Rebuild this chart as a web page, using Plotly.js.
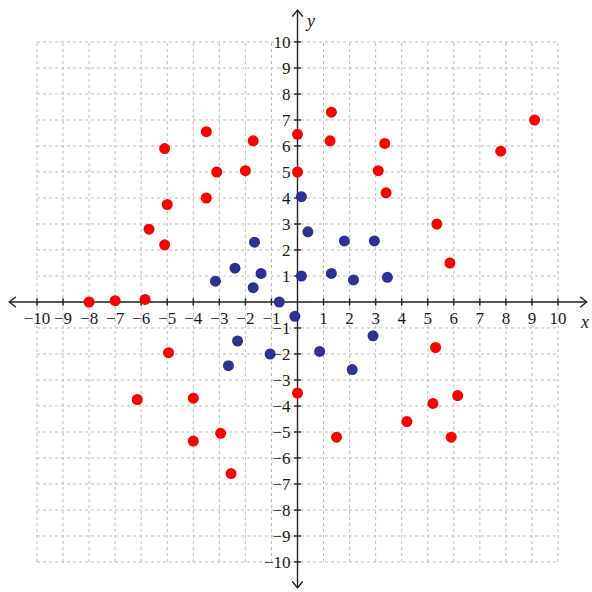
<!DOCTYPE html>
<html>
<head>
<meta charset="utf-8">
<script src="https://cdn.plot.ly/plotly-3.0.1.min.js"></script>
<style>html,body{margin:0;padding:0;background:#fff;}#chart{width:592px;height:592px;}</style>
</head>
<body>
<div id="chart"></div>
<script>
// Data
const redX = [-3.5, -5.1, -1.7, -3.1, -2.0, -3.5, -5.0, -5.7, -5.1, 0, 0, -8, -7, -5.85,
              1.3, 1.25, 3.35, 3.1, 3.4, 5.35, 5.85, 7.8, 9.1,
              -4.95, -6.15, -4.0, -4.0, -2.95, -2.55, 0,
              5.3, 6.15, 5.2, 4.2, 1.5, 5.9];
const redY = [6.55, 5.9, 6.2, 5.0, 5.05, 4.0, 3.75, 2.8, 2.2, 6.45, 5.0, 0, 0.05, 0.1,
              7.3, 6.2, 6.1, 5.05, 4.2, 3.0, 1.5, 5.8, 7.0,
              -1.95, -3.75, -3.7, -5.35, -5.05, -6.6, -3.5,
              -1.75, -3.6, -3.9, -4.6, -5.2, -5.2];
const blueX = [-1.65, -2.4, -1.4, -3.15, -1.7, -0.7,
               0.15, 0.4, 1.8, 2.95, 0.15, 1.3, 2.15, 3.45,
               -2.3, -1.05, -2.65, -0.1,
               2.9, 0.85, 2.1];
const blueY = [2.3, 1.3, 1.1, 0.8, 0.55, 0.0,
               4.05, 2.7, 2.35, 2.35, 1.0, 1.1, 0.85, 0.95,
               -1.5, -2.0, -2.45, -0.55,
               -1.3, -1.9, -2.6];
const gridVals = [-10,-9,-8,-7,-6,-5,-4,-3,-2,-1,0,1,2,3,4,5,6,7,8,9,10];
const tickVals = [-10,-9,-8,-7,-6,-5,-4,-3,-2,-1,1,2,3,4,5,6,7,8,9,10];
const tickText = tickVals.map(v => (v < 0 ? '\u2212' + Math.abs(v) : String(v)));

const X_RANGE = [-11.42, 11.305];
const Y_RANGE = [-11.154, 11.615];
const axisColor = '#222';
const gridColor = '#bdbdbd';

const shapes = [];
// grid
gridVals.forEach(v => {
  shapes.push({type:'line', xref:'x', yref:'y', x0:v, x1:v, y0:-10, y1:10, layer:'below',
               line:{color:gridColor, width:1, dash:'dot'}});
  shapes.push({type:'line', xref:'x', yref:'y', x0:-10, x1:10, y0:v, y1:v, layer:'below',
               line:{color:gridColor, width:1, dash:'dot'}});
});
// axes
const axLine = {color:axisColor, width:1.4};
shapes.push({type:'line', xref:'x', yref:'y', x0:-11.06, x1:11.1, y0:0, y1:0, layer:'below', line:axLine});
shapes.push({type:'line', xref:'x', yref:'y', x0:0, x1:0, y0:-11.0, y1:11.23, layer:'below', line:axLine});
// arrow chevrons
const ah = 0.25, aw = 0.2;
shapes.push({type:'path', xref:'x', yref:'y', layer:'below', line:axLine,
  path:`M ${11.1-ah},${aw} L 11.1,0 L ${11.1-ah},${-aw}`});
shapes.push({type:'path', xref:'x', yref:'y', layer:'below', line:axLine,
  path:`M ${-11.06+ah},${aw} L -11.06,0 L ${-11.06+ah},${-aw}`});
shapes.push({type:'path', xref:'x', yref:'y', layer:'below', line:axLine,
  path:`M ${-aw},${11.23-ah} L 0,11.23 L ${aw},${11.23-ah}`});
shapes.push({type:'path', xref:'x', yref:'y', layer:'below', line:axLine,
  path:`M ${-aw},${-11.0+ah} L 0,-11.0 L ${aw},${-11.0+ah}`});
// tick marks crossing axes
tickVals.forEach(v => {
  shapes.push({type:'line', xref:'x', yref:'y', x0:v, x1:v, y0:-0.14, y1:0.14, layer:'below', line:axLine});
  shapes.push({type:'line', xref:'x', yref:'y', x0:-0.14, x1:0.14, y0:v, y1:v, layer:'below', line:axLine});
});

const markerSize = 11;
const traces = [
  {type:'scatter', mode:'markers', x:redX, y:redY, marker:{color:'#ff0000', size:markerSize}, cliponaxis:false, hoverinfo:'skip'},
  {type:'scatter', mode:'markers', x:blueX, y:blueY, marker:{color:'#2e3192', size:markerSize}, cliponaxis:false, hoverinfo:'skip'}
];

const tickFont = {family:'Liberation Serif', size:17, color:'#1a1a1a'};
const layout = {
  width:592, height:592,
  margin:{l:0, r:0, t:0, b:0, pad:0},
  paper_bgcolor:'#fff', plot_bgcolor:'#fff',
  showlegend:false,
  xaxis:{range:X_RANGE, showgrid:false, zeroline:false, showline:false,
         anchor:'free', position:(592-302)/592, side:'bottom',
         tickmode:'array', tickvals:tickVals, ticktext:tickText, ticks:'',
         ticklabelstandoff:4,
         tickfont:tickFont, fixedrange:true},
  yaxis:{range:Y_RANGE, showgrid:false, zeroline:false, showline:false,
         anchor:'free', position:297.5/592, side:'left',
         tickmode:'array', tickvals:tickVals, ticktext:tickText, ticks:'',
         ticklabelstandoff:7,
         tickfont:tickFont, fixedrange:true},
  shapes:shapes,
  annotations:[
    {xref:'x', yref:'y', x:11.03, y:-0.77, text:'<i>x</i>', showarrow:false,
     font:{family:'Liberation Serif', size:18, color:'#222'}},
    {xref:'x', yref:'y', x:0.48, y:10.8, text:'<i>y</i>', showarrow:false,
     font:{family:'Liberation Serif', size:18, color:'#222'}}
  ]
};
Plotly.newPlot('chart', traces, layout, {displayModeBar:false, staticPlot:true});
</script>
</body>
</html>
